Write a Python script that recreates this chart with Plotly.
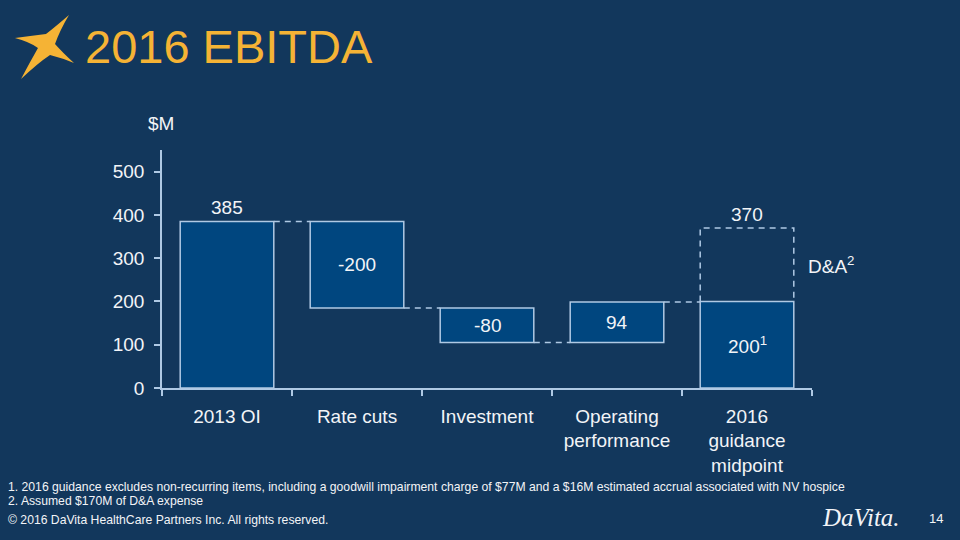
import plotly.graph_objects as go

# ---- data ----
categories = ["2013 OI", "Rate cuts", "Investment", "Operating<br>performance", "2016<br>guidance<br>midpoint"]
bar_values = [385, -200, -80, 94, 200]
bar_labels = ["385", "-200", "-80", "94", "200<sup>1</sup>"]
bar_kinds = ["total", "relative", "relative", "relative", "total"]
da_value = 170
da_total_label = "370"
y_ticks = [0, 100, 200, 300, 400, 500]

BG = "#12375C"
BAR = "#00467F"
EDGE = "#AFC9E4"
TXT = "#F2F4F7"
GOLD = "#F5B335"
FONT = "Arial"

# compute waterfall bases
bases, heights, tops = [], [], []
running = 0
for v, k in zip(bar_values, bar_kinds):
    if k == "total":
        b, h = 0, v
        running = v
    else:
        new = running + v
        b, h = min(running, new), abs(v)
        running = new
    bases.append(b)
    heights.append(h)
    tops.append(running)

fig = go.Figure()
W = 0.72
fig.add_trace(go.Bar(
    x=categories, y=heights, base=bases, width=W,
    marker=dict(color=BAR, line=dict(color=EDGE, width=1.5)),
    hoverinfo="skip", showlegend=False,
))

DASH = "6px,5px"
shapes = []
# connectors
for i in range(len(categories) - 1):
    level = tops[i]
    shapes.append(dict(type="line", xref="x", yref="y",
                       x0=i + W / 2, x1=i + 1 - W / 2, y0=level, y1=level,
                       line=dict(color=EDGE, width=1.5, dash=DASH)))
# D&A dashed box
last = len(categories) - 1
top_last = bases[last] + heights[last]
shapes.append(dict(type="path", xref="x", yref="y",
                   path=f"M {last - W/2},{top_last} L {last - W/2},{top_last + da_value} "
                        f"L {last + W/2},{top_last + da_value} L {last + W/2},{top_last}",
                   line=dict(color=EDGE, width=1.5, dash=DASH)))

# star (pixel coords -> paper)
L, R, T, B = 162, 812, 150, 388
def P(px, py):
    return f"{(px - L) / (R - L):.4f},{(B - py) / (B - T):.4f}"
star = (f"M {P(69,15)} Q {P(54,28)} {P(46,34)} Q {P(30,36)} {P(15,38)} "
        f"Q {P(30,42)} {P(38,48)} Q {P(30,62)} {P(21,79)} "
        f"Q {P(38,63)} {P(50,55)} Q {P(62,58)} {P(74,63)} "
        f"Q {P(62,52)} {P(55,44)} Q {P(60,30)} {P(69,15)} Z")
shapes.append(dict(type="path", xref="paper", yref="paper", path=star,
                   fillcolor=GOLD, line=dict(width=0)))

annotations = []
for i, lab in enumerate(bar_labels):
    if i == 0:
        annotations.append(dict(x=i, y=tops[i], text=lab, showarrow=False, yanchor="bottom",
                                yshift=1, font=dict(size=19, color=TXT, family=FONT)))
    else:
        annotations.append(dict(x=i, y=bases[i] + heights[i] / 2, text=lab, showarrow=False,
                                font=dict(size=19, color=TXT, family=FONT)))
annotations.append(dict(x=last, y=top_last + da_value, text=da_total_label, showarrow=False,
                        yanchor="bottom", yshift=1, font=dict(size=19, color=TXT, family=FONT)))
annotations.append(dict(x=last + 0.45, y=top_last + da_value / 2, text="D&A<sup>2</sup>",
                        showarrow=False, xanchor="left", xref="x",
                        font=dict(size=19, color=TXT, family=FONT)))


def pap(px, py):
    return (px - L) / (R - L), (B - py) / (B - T)

def text_at(px, py, text, size, color=TXT, xanchor="left", family=FONT):
    x, y = pap(px, py)
    annotations.append(dict(xref="paper", yref="paper", x=x, y=y, text=text, showarrow=False,
                            xanchor=xanchor, yanchor="middle",
                            font=dict(size=size, color=color, family=family)))

text_at(83, 46, "2016 EBITDA", 47, GOLD)
text_at(146, 124, "$M", 19)
text_at(6, 487, "1. 2016 guidance excludes non-recurring items, including a goodwill impairment charge of $77M and a $16M estimated accrual associated with NV hospice", 12.2)
text_at(6, 501, "2. Assumed $170M of D&A expense", 12.2)
text_at(6, 520, "© 2016 DaVita HealthCare Partners Inc. All rights reserved.", 12.2)
text_at(945, 518, "14", 13, xanchor="right")
text_at(820, 517, "<i>DaVita.</i>", 25, family="Liberation Serif")

fig.update_layout(
    width=960, height=540,
    margin=dict(l=L, r=960 - R, t=T, b=540 - B, pad=0),
    paper_bgcolor=BG, plot_bgcolor=BG,
    bargap=0.28,
    shapes=shapes, annotations=annotations,
    xaxis=dict(type="category", range=[-0.5, len(categories) - 0.5], showgrid=False,
               zeroline=False, showline=True, linecolor=EDGE, linewidth=1.5,
               ticks="outside", tickson="boundaries", ticklen=6, tickcolor=EDGE, tickwidth=1.5,
               ticklabelstandoff=10,
               tickfont=dict(size=19, color=TXT, family=FONT), fixedrange=True),
    yaxis=dict(range=[0, 550], tickvals=y_ticks, showgrid=False, zeroline=False,
               showline=True, linecolor=EDGE, linewidth=1.5, ticks="outside", ticklen=6,
               tickcolor=EDGE, tickwidth=1.5, ticklabelstandoff=6,
               tickfont=dict(size=19, color=TXT, family=FONT),
               fixedrange=True),
)

fig.write_html("out.html")
